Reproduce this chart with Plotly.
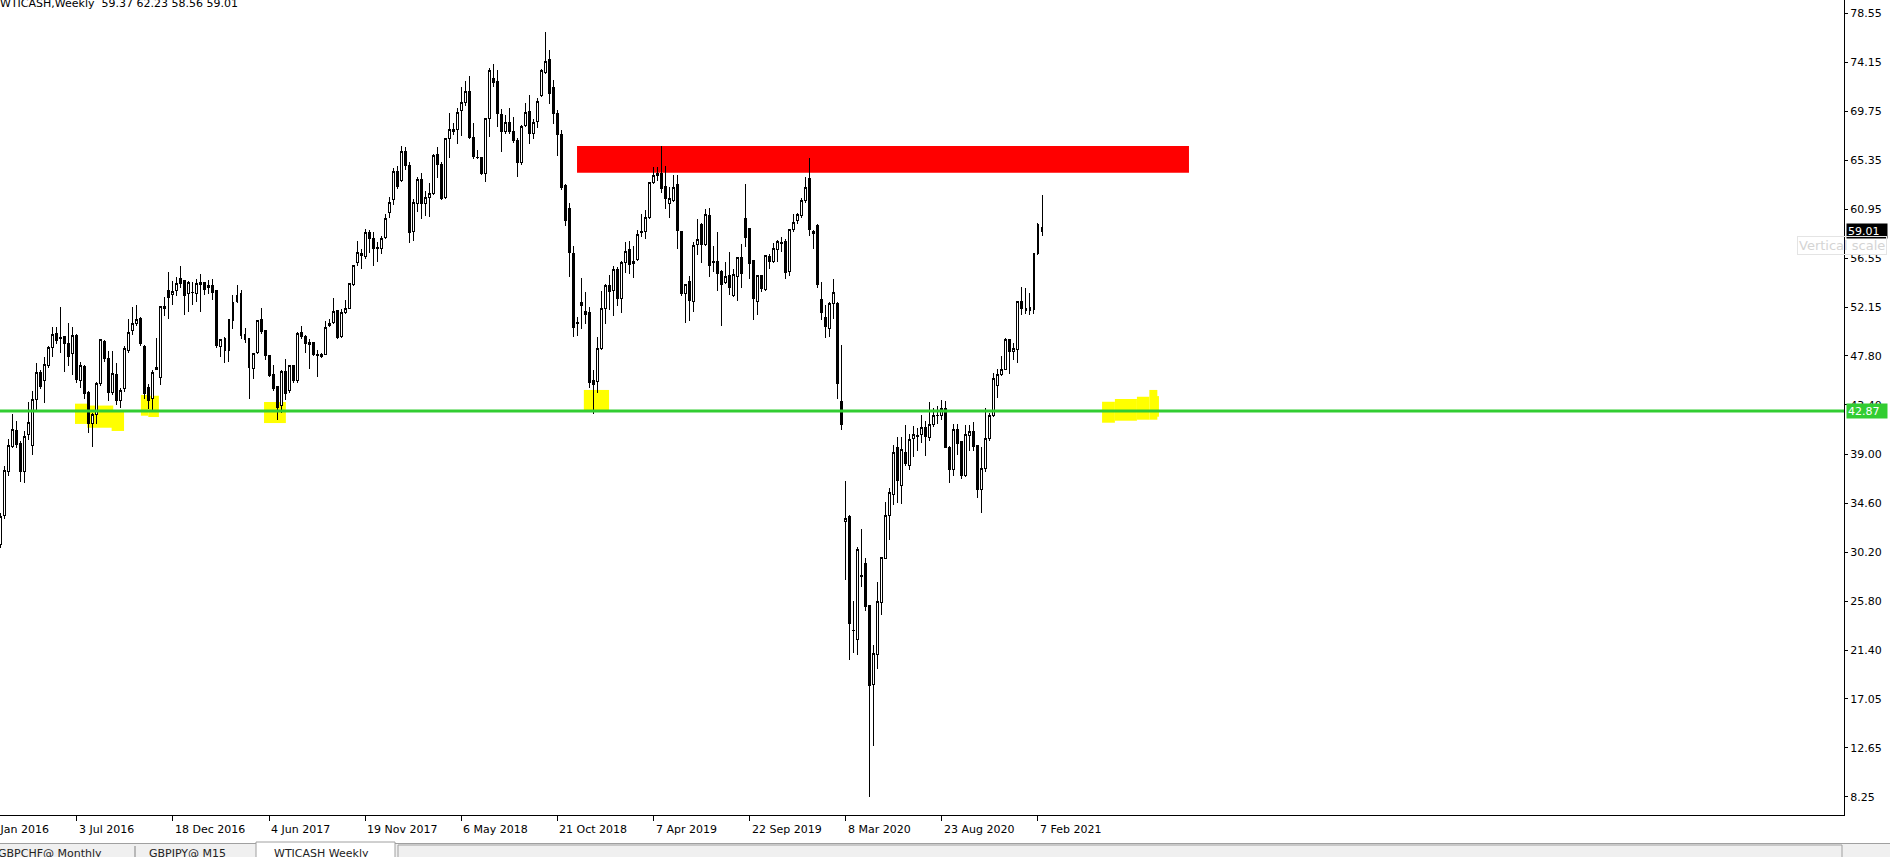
import pandas as pd
import plotly.graph_objects as go

# ---------------- data ----------------
start = pd.Timestamp("2016-02-21")
dates = pd.date_range(start, periods=261, freq="7D")

open_ = [30.9,33.5,37.42,39.69,41.13,39.99,37.42,40.77,39.75,43.91,
46.33,45.62,46.90,48.58,49.83,49.39,49.51,48.94,48.04,49.60,
45.62,46.87,44.48,41.73,42.57,45.35,49.06,47.53,44.51,46.15,
43.79,44.87,48.28,50.07,50.73,51.15,48.64,44.93,44.00,46.60,
45.89,52.10,53.63,53.30,53.69,54.71,54.53,53.36,53.45,53.42,
54.20,54.35,53.98,54.14,53.63,48.64,49.33,48.25,50.94,52.65,
53.36,49.77,49.36,46.69,48.10,51.03,50.10,47.86,46.10,45.02,
43.37,46.42,44.69,46.90,45.62,49.92,49.54,48.97,48.97,47.90,
47.74,47.95,50.49,50.79,51.84,49.54,51.72,52.08,54.20,56.18,
57.0,56.7,58.9,58.3,57.4,57.43,58.42,60.66,61.80,64.34,
63.50,66.19,64.88,59.01,61.50,63.59,61.47,62.04,62.34,65.90,
64.94,62.04,67.33,68.14,68.08,69.87,70.53,71.49,67.42,65.62,
65.57,64.19,69.07,72.72,72.39,69.51,67.90,68.71,67.96,67.15,
65.15,68.47,69.78,67.78,68.83,71.19,73.25,74.42,71.85,69.57,
67.63,63.14,60.99,57.01,50.70,52.61,51.81,51.66,45.56,45.50,
48.49,52.05,54.08,53.69,55.52,52.94,56.20,57.31,56.11,56.47,
58.90,58.99,60.24,63.35,63.95,64.13,62.97,61.44,61.77,63.23,
58.99,53.39,54.47,52.67,57.82,59.61,57.82,60.42,56.20,56.26,
55.40,54.41,55.04,53.27,54.92,56.65,60.15,59.26,56.35,52.67,
55.01,53.72,56.71,56.32,57.37,57.90,58.03,55.37,59.11,59.93,
60.39,61.71,63.74,58.95,59.55,52.88,51.25,50.24,52.52,52.52,
43.73,32.93,33.37,23.20,22.35,28.10,29.20,25.37,18.33,21.01,
25.66,29.65,33.48,35.35,39.55,36.20,39.18,37.95,40.37,40.56,
40.75,41.38,40.45,41.68,42.42,42.50,43.09,39.63,37.58,41.19,
40.11,37.10,40.63,41.01,39.74,35.83,37.66,40.37,42.42,45.14,
46.15,46.63,49.24,48.20,48.38,52.67,51.92,51.92,52.00,56.95,
59.37]

high = [33.7,37.9,40.32,42.63,41.97,40.2,41.07,43.64,44.66,47.14,
46.5,47.68,48.65,50.37,50.37,52.20,49.62,50.73,50.37,49.77,
47.23,47.0,44.69,42.71,45.44,49.36,49.2,48.28,48.22,47.14,
44.90,48.70,51.12,52.20,52.35,51.3,48.76,45.29,46.51,49.39,
52.26,53.12,55.34,54.50,54.89,55.88,54.6,54.5,54.44,54.68,
55.19,54.44,54.6,54.71,53.7,49.3,49.51,51.09,53.30,54.20,
53.69,50.28,49.4,48.10,51.0,52.11,50.15,47.9,46.96,45.1,
46.51,47.56,46.93,47.0,49.92,50.46,49.71,49.33,49.0,48.31,
48.10,50.94,51.12,53.00,51.93,52.02,52.80,54.32,55.97,58.15,
57.4,59.2,59.1,58.9,58.0,58.57,60.54,62.10,64.70,64.88,
66.61,66.55,65.18,61.86,63.83,64.19,62.60,63.32,65.96,66.58,
65.21,67.36,69.57,68.68,70.08,71.97,72.48,72.89,68.71,66.28,
65.6,69.16,73.61,74.03,73.46,69.93,69.42,70.02,69.28,67.33,
68.5,70.47,71.22,69.04,70.98,73.52,76.84,75.23,72.57,69.87,
68.08,63.2,61.50,57.67,51.33,54.80,53.51,52.17,46.5,49.47,
53.63,54.23,55.07,55.88,55.82,56.3,58.00,58.12,57.70,59.11,
60.54,60.90,63.38,64.73,64.73,66.64,64.85,63.00,64.07,64.07,
59.0,54.3,55.01,58.03,60.06,59.7,61.02,61.08,57.70,58.90,
55.5,56.26,57.10,55.58,56.7,57.82,63.20,59.3,56.4,55.1,
55.1,56.8,56.95,57.91,58.21,58.5,58.3,59.2,60.54,60.6,
61.95,63.89,65.54,59.11,59.6,54.42,52.33,52.6,54.68,52.6,
48.75,36.58,33.5,25.78,30.69,32.26,29.65,25.4,21.86,27.53,
29.7,34.68,35.91,39.85,40.56,40.56,41.64,40.82,41.49,41.3,
42.53,41.99,43.65,43.17,43.35,43.84,43.73,39.7,41.68,41.68,
40.2,41.64,41.60,41.86,39.8,39.63,43.17,42.72,46.30,46.59,
47.82,49.42,49.3,48.94,52.7,53.97,53.86,53.48,57.06,59.74,
62.23]

low = [30.6,33.2,37.0,39.5,39.5,36.5,36.4,40.26,38.92,42.77,
44.8,43.55,46.75,47.68,48.88,48.10,46.36,46.90,46.12,45.35,
44.96,43.91,40.92,39.66,41.73,45.14,47.3,43.76,44.27,43.37,
43.16,44.60,48.10,49.65,50.5,48.70,43.91,43.01,42.86,46.54,
45.23,51.39,51.15,52.35,53.18,53.9,51.45,51.78,52.35,52.65,
51.72,53.3,53.4,52.80,48.55,47.68,47.20,47.29,50.19,52.53,
49.33,49.0,43.97,45.77,48.0,49.8,47.41,45.9,44.7,42.06,
42.71,43.85,44.5,45.4,45.41,49.3,48.10,46.66,47.8,45.89,
47.6,47.9,50.4,50.7,49.36,49.4,51.6,52.0,54.1,55.9,
55.6,56.5,57.0,55.9,56.2,56.92,58.3,60.15,61.32,62.78,
63.4,64.5,57.91,58.15,60.75,60.06,60.39,60.24,62.2,63.74,
61.80,61.9,65.60,67.63,66.82,67.57,70.26,67.3,65.45,65.45,
64.0,63.44,67.48,71.9,68.32,66.13,67.7,67.7,66.9,63.89,
64.94,68.3,66.82,67.24,68.26,71.0,73.1,70.44,68.65,65.78,
62.72,59.49,54.92,49.53,49.59,50.25,50.64,44.96,42.62,44.51,
48.3,50.67,51.93,51.42,52.32,51.63,55.22,55.16,54.83,56.3,
58.51,58.27,60.1,63.2,63.5,62.40,61.02,60.15,61.6,57.37,
53.21,50.73,50.97,51.78,56.83,56.11,57.7,54.92,55.3,53.66,
50.51,54.3,53.27,53.1,52.76,53.93,57.58,54.74,51.0,51.45,
53.5,53.6,55.6,56.1,56.26,57.1,54.7,55.0,58.9,59.6,
60.2,61.5,58.57,57.40,53.93,51.03,49.39,49.5,51.1,43.91,
41.19,27.71,20.52,21.12,20.93,27.08,24.9,8.27,12.81,19.70,
24.55,29.57,31.25,34.42,34.60,34.53,37.95,37.58,38.70,39.26,
39.97,38.81,40.2,41.42,41.68,42.05,39.52,36.39,37.02,38.88,
36.72,36.9,39.26,39.26,35.05,33.75,37.40,40.19,42.3,43.99,
46.0,46.5,46.15,47.45,47.19,51.44,51.6,51.51,51.55,56.87,
58.56]

close = [33.4,37.48,39.78,41.22,39.84,37.42,40.59,41.79,43.91,46.33,
45.05,47.05,48.58,49.74,49.18,49.45,48.94,47.74,49.65,45.68,
46.96,44.42,41.73,42.51,45.35,49.24,47.56,44.54,46.24,43.79,
44.72,48.43,49.92,50.73,51.09,48.91,44.39,43.82,46.36,46.75,
52.20,52.26,53.06,53.54,54.32,54.32,53.21,54.41,53.48,54.26,
54.38,53.78,54.14,53.48,48.73,49.24,48.25,51.03,52.56,53.27,
49.62,49.27,46.75,48.04,50.94,49.98,47.83,46.07,44.87,43.16,
46.45,44.42,46.90,45.62,49.83,49.54,48.94,48.85,47.95,47.85,
47.95,50.37,50.73,51.75,49.45,51.69,52.08,54.29,55.91,57.07,
56.8,58.9,58.3,57.4,57.5,58.36,60.15,61.56,64.34,62.99,
66.19,64.88,58.90,61.53,63.59,61.44,62.04,62.34,65.75,64.94,
61.89,67.33,68.08,67.96,69.66,70.50,71.49,67.42,65.69,65.57,
64.13,69.07,73.43,72.33,69.54,67.96,68.71,67.93,67.15,65.18,
68.41,69.66,67.75,68.77,70.65,73.43,74.24,71.34,69.54,67.63,
62.90,59.94,57.07,50.33,50.76,52.31,51.54,45.44,45.26,48.49,
52.02,54.08,53.57,55.52,52.94,56.23,57.16,55.97,56.32,58.72,
58.99,60.24,63.35,63.95,64.13,62.85,61.92,61.89,62.94,59.05,
53.39,54.23,52.76,57.67,58.27,57.82,60.48,55.91,56.30,55.22,
54.17,54.89,53.96,55.13,56.65,55.16,58.45,56.11,52.97,55.01,
53.87,56.77,56.32,57.46,58.03,58.00,55.28,59.11,59.79,60.45,
61.71,62.93,59.17,58.80,54.17,51.69,50.47,52.52,53.48,45.29,
41.68,33.19,23.80,23.15,30.39,28.01,25.29,18.21,21.08,25.74,
29.69,33.48,35.53,39.18,36.65,39.44,38.14,40.26,40.71,40.67,
41.38,40.56,41.68,42.42,42.50,43.09,39.59,37.58,41.19,39.93,
37.10,40.71,41.01,39.70,35.83,37.69,40.37,42.42,45.78,46.15,
46.63,49.24,48.20,48.46,52.67,52.07,52.07,52.11,57.02,59.56,
59.01]

tick_dates = ["2016-01-17", "2016-07-03", "2016-12-18", "2017-06-04", "2017-11-19",
              "2018-05-06", "2018-10-21", "2019-04-07", "2019-09-22", "2020-03-08",
              "2020-08-23", "2021-02-07"]
tick_labels = ["17 Jan 2016", "3 Jul 2016", "18 Dec 2016", "4 Jun 2017", "19 Nov 2017",
               "6 May 2018", "21 Oct 2018", "7 Apr 2019", "22 Sep 2019", "8 Mar 2020",
               "23 Aug 2020", "7 Feb 2021"]
price_ticks = [78.55, 74.15, 69.75, 65.35, 60.95, 56.55, 52.15, 47.80, 43.40,
               39.00, 34.60, 30.20, 25.80, 21.40, 17.05, 12.65, 8.25]
level_price = 42.87
last_price = 59.01
title_text = "WTICASH,Weekly\u00a0\u00a059.37 62.23 58.56 59.01"
tab_names = ["GBPCHF@ Monthly", "GBPJPY@ M15", "WTICASH Weekly"]

# ---------------- geometry helpers ----------------
W, H = 1890, 857
PL, PR, PT, PB = 0, 1844, 0, 815          # plot area in pixels
FONT = "DejaVu Sans"
X_START_WK, X_END_WK = -0.175, 460.25      # visible range in weeks from the first candle
PX_PER_WK = (PR - PL) / (X_END_WK - X_START_WK)


def wk(k):
    return (start + pd.Timedelta(days=7 * k)).strftime("%Y-%m-%d %H:%M:%S")


def xp(px):
    return (px - PL) / (PR - PL)


def yp(py):
    return (PB - py) / (PB - PT)


def date_to_paper(d):
    weeks = (pd.Timestamp(d) - start) / pd.Timedelta(days=7)
    return (weeks - X_START_WK) / (X_END_WK - X_START_WK)


fig = go.Figure()
fig.add_trace(go.Candlestick(
    x=dates, open=open_, high=high, low=low, close=close,
    increasing=dict(line=dict(color="black", width=1), fillcolor="white"),
    decreasing=dict(line=dict(color="black", width=1), fillcolor="black"),
    whiskerwidth=0, hoverinfo="skip", showlegend=False,
))

shapes = []
# red resistance zone (background)
shapes.append(dict(type="rect", xref="x", yref="y", x0=wk(143.9), x1=wk(296.7),
                   y0=64.25, y1=66.64, fillcolor="#FF0000", line=dict(width=0), layer="below"))
# yellow highlights (k0, k1, v0, v1)
yellow = [
    (18.55, 21.6, 41.70, 43.52), (21.6, 28.1, 41.36, 43.35), (27.7, 30.8, 41.07, 42.95),
    (35.0, 36.85, 42.44, 44.30), (36.85, 39.5, 42.32, 44.23),
    (65.75, 71.2, 41.78, 43.67),
    (145.6, 151.9, 42.80, 44.75),
    (275.0, 278.2, 41.81, 43.69), (278.2, 283.7, 41.99, 43.94), (283.7, 286.8, 42.08, 44.14),
    (286.8, 288.8, 42.08, 44.75), (288.2, 289.2, 42.35, 44.20),
]
for k0, k1, v0, v1 in yellow:
    shapes.append(dict(type="rect", xref="x", yref="y", x0=wk(k0), x1=wk(k1), y0=v0, y1=v1,
                       fillcolor="#FFFF00", line=dict(width=0), layer="below"))
# green horizontal level
shapes.append(dict(type="line", xref="paper", yref="y", x0=0, x1=1, y0=level_price, y1=level_price,
                   line=dict(color="#32CD32", width=3), layer="above"))

# bottom tab bar
shapes.append(dict(type="rect", xref="paper", yref="paper", x0=xp(0), x1=xp(W), y0=yp(843), y1=yp(H),
                   fillcolor="#F0F0F0", line=dict(width=0), layer="above"))
shapes.append(dict(type="line", xref="paper", yref="paper", x0=xp(0), x1=xp(W), y0=yp(843.5), y1=yp(843.5),
                   line=dict(color="#A0A0A0", width=1), layer="above"))
shapes.append(dict(type="rect", xref="paper", yref="paper", x0=xp(256), x1=xp(395), y0=yp(842), y1=yp(H + 2),
                   fillcolor="#FFFFFF", line=dict(color="#A0A0A0", width=1), layer="above"))
shapes.append(dict(type="line", xref="paper", yref="paper", x0=xp(135), x1=xp(135), y0=yp(846), y1=yp(H),
                   line=dict(color="#808080", width=1), layer="above"))
shapes.append(dict(type="rect", xref="paper", yref="paper", x0=xp(398), x1=xp(1842), y0=yp(845), y1=yp(H + 2),
                   fillcolor="#F0F0F0", line=dict(color="#A0A0A0", width=1), layer="above"))

annotations = []
# title
annotations.append(dict(xref="paper", yref="paper", x=0, y=1, xanchor="left", yanchor="top",
                        xshift=-2, yshift=5, text=title_text, showarrow=False,
                        font=dict(family=FONT, size=11, color="black")))
# date labels (left-aligned at their tick, like the terminal's time scale)
for d, t in zip(tick_dates, tick_labels):
    annotations.append(dict(xref="paper", yref="paper", x=date_to_paper(d), y=0,
                            xanchor="left", yanchor="top",
                            xshift=0, yshift=-6, text=t, showarrow=False,
                            font=dict(family=FONT, size=11, color="black")))
# price boxes on axis
annotations.append(dict(xref="paper", yref="y", x=xp(1846), y=last_price, xanchor="left", yanchor="middle",
                        text=f"{last_price:.2f}", showarrow=False, bgcolor="black", width=38, height=12,
                        borderpad=1, align="left", font=dict(family=FONT, size=11, color="white")))
annotations.append(dict(xref="paper", yref="y", x=xp(1846), y=level_price, xanchor="left", yanchor="middle",
                        text=f"{level_price:.2f}", showarrow=False, bgcolor="#32CD32", width=38, height=12,
                        borderpad=1, align="left", font=dict(family=FONT, size=11, color="white")))
# ghost tooltip
annotations.append(dict(xref="paper", yref="paper", x=xp(1797), y=yp(236), xanchor="left", yanchor="top",
                        text="Vertical scale", showarrow=False, bgcolor="rgba(255,255,255,0)",
                        bordercolor="#E4E4E4", borderwidth=1, borderpad=1,
                        font=dict(family=FONT, size=13, color="#D4D4D4")))
# tab names
tab_x = [-4, 147, 272]
for tx, name in zip(tab_x, tab_names):
    annotations.append(dict(xref="paper", yref="paper", x=xp(tx), y=yp(845), xanchor="left", yanchor="top",
                            text=name, showarrow=False, font=dict(family=FONT, size=11, color="#222222")))

fig.update_layout(
    width=W, height=H, margin=dict(l=PL, r=W - PR, t=PT, b=H - PB, pad=0),
    paper_bgcolor="white", plot_bgcolor="white", showlegend=False,
    shapes=shapes, annotations=annotations,
    xaxis=dict(type="date", range=[wk(X_START_WK), wk(X_END_WK)], showgrid=False, zeroline=False,
               showline=True, linecolor="black", linewidth=1, ticks="outside", ticklen=5,
               tickcolor="black", tickvals=tick_dates, showticklabels=False,
               rangeslider=dict(visible=False), fixedrange=True),
    yaxis=dict(side="right", range=[6.61, 79.74], showgrid=False, zeroline=False,
               showline=True, linecolor="black", linewidth=1, ticks="outside", ticklen=3,
               tickcolor="black", tickvals=price_ticks, ticktext=[f"{v:.2f}" for v in price_ticks],
               tickfont=dict(family=FONT, size=11, color="black"), fixedrange=True),
)

post = (
    "document.body.style.margin='0';document.body.style.overflow='hidden';"
    "var s=document.createElement('style');"
    "s.innerHTML='.boxlayer path{shape-rendering:crispEdges;}';"
    "document.head.appendChild(s);"
)
fig.write_html("out.html", include_plotlyjs=True, full_html=True,
               config={"displayModeBar": False}, post_script=post)
